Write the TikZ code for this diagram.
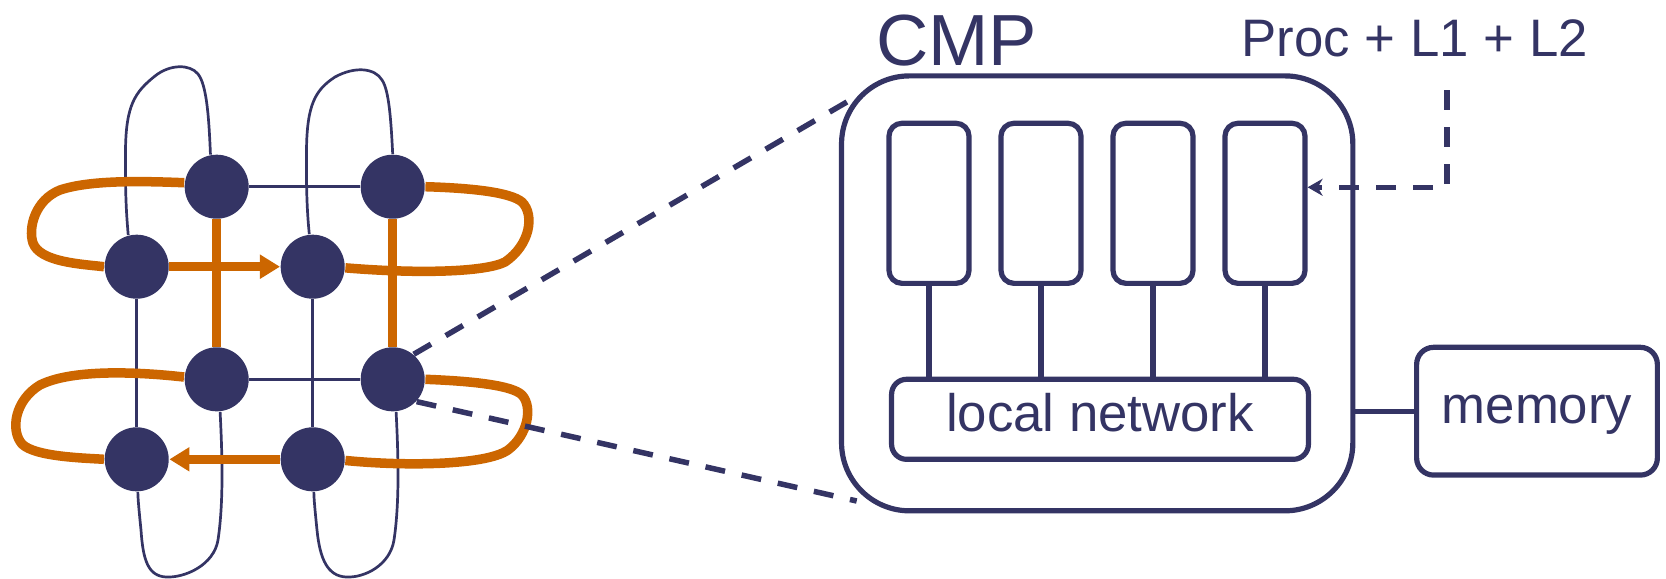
\documentclass[tikz,border=0pt]{standalone}
\usepackage{fontspec}
\newfontfamily\labelfont{Liberation Sans}
\usetikzlibrary{arrows.meta}
\pgfdeclarelayer{background}
\pgfsetlayers{background,main}
\definecolor{navy}{RGB}{52,52,100}
\definecolor{ringorange}{RGB}{204,102,0}

\begin{document}
\begin{tikzpicture}[x=0.01cm,y=-0.01cm,
  router/.style={circle,fill=navy,minimum size=0.64cm,inner sep=0pt},
  gridlink/.style={draw=navy,line width=0.034cm},
  wraplink/.style={draw=navy,line width=0.027cm},
  ring/.style={draw=ringorange,line width=0.095cm},
  ringarrow/.style={ring,-{Triangle[length=0.2cm,width=0.23cm]}},
  zoomline/.style={draw=navy,line width=0.055cm,dash pattern=on 0.2cm off 0.17cm},
  boxline/.style={draw=navy,line width=0.052cm},
  cmpbox/.style={boxline,rectangle,rounded corners=0.68cm,minimum width=5.11cm,minimum height=4.347cm,inner sep=0pt},
  procbox/.style={boxline,rectangle,rounded corners=0.13cm,minimum width=0.8cm,minimum height=1.6cm,inner sep=0pt},
  textbox/.style={boxline,rectangle,inner sep=0pt,text=navy,
    font=\labelfont\fontsize{15pt}{18pt}\selectfont,text height=0.716em,text depth=0pt},
  label/.style={inner sep=0pt,text=navy,anchor=base west}
]
\useasboundingbox (0,0) rectangle (1666,578);

% 2D torus: routers
\node[router] (A) at (216.7,186.7) {};
\node[router] (B) at (392.7,186.7) {};
\node[router] (C) at (136.7,266.7) {};
\node[router] (D) at (312.7,266.7) {};
\node[router] (E) at (216.7,379.3) {};
\node[router] (F) at (392.7,379.3) {};
\node[router] (G) at (136.7,459.3) {};
\node[router] (H) at (312.7,459.3) {};

\begin{pgfonlayer}{background}
  % vertical wrap-around links
  \draw[wraplink] (A.101) .. controls (209,120) and (207,85) .. (198,74)
    .. controls (190,64) and (170,64) .. (155,76)
    .. controls (135,92) and (126,105) .. (125.5,150)
    .. controls (125,200) and (127,220) .. (C.105);
  \draw[wraplink] (B.90) .. controls (391,120) and (389,90) .. (382,80)
    .. controls (375,68) and (355,66) .. (335,77)
    .. controls (315,90) and (307,105) .. (306.5,150)
    .. controls (306,200) and (308,220) .. (D.96);
  \draw[wraplink] (E.-84) .. controls (222,450) and (224,500) .. (218,540)
    .. controls (214,565) and (185,578) .. (166,577)
    .. controls (148,576) and (143,560) .. (141,530)
    .. controls (139,510) and (138,500) .. (G.-88);
  \draw[wraplink] (F.-84) .. controls (398,450) and (400,500) .. (394,540)
    .. controls (390,565) and (365,578) .. (346,577)
    .. controls (328,576) and (320,560) .. (317,530)
    .. controls (315,510) and (314,500) .. (H.-88);

  % plain mesh links
  \draw[gridlink] (A) -- (B);
  \draw[gridlink] (E) -- (F);
  \draw[gridlink] (C) -- (G);
  \draw[gridlink] (D) -- (H);

  % ring (highlighted route)
  \draw[ring] (A) -- (E);
  \draw[ring] (B) -- (F);
  \draw[ringarrow] (C) -- (D);
  \draw[ringarrow] (H) -- (G);
  \draw[ring] (A.173) .. controls (140,181) and (90,180) .. (60,190)
    .. controls (35,200) and (28,228) .. (33,243)
    .. controls (40,262) and (80,264) .. (C.180);
  \draw[ring] (B.0) .. controls (470,188) and (510,192) .. (522,202)
    .. controls (535,215) and (530,245) .. (505,262)
    .. controls (485,272) and (420,274) .. (D.358);
  \draw[ring] (E.176) .. controls (130,371) and (70,370) .. (40,385)
    .. controls (15,400) and (10,430) .. (22,444)
    .. controls (35,457) and (85,458) .. (G.180);
  \draw[ring] (F.0) .. controls (470,381) and (512,385) .. (522,395)
    .. controls (533,407) and (528,435) .. (508,450)
    .. controls (485,466) and (400,466) .. (H.358);

  % zoom lines towards the chip
  \coordinate (zoomtop) at (852,99);
  \coordinate (zoombot) at (856.7,501);
  \draw[zoomline] (F.50) -- (zoomtop);
  \draw[zoomline] (F.-43) -- (zoombot);
\end{pgfonlayer}

% chip multiprocessor
\node[cmpbox] (cmp) at (1097.2,293.35) {};
\node[label,font=\labelfont\fontsize{20.6pt}{24pt}\selectfont] (cmplabel) at (875.4,65) {CMP};

\node[procbox] (P1) at (929,203.3) {};
\node[procbox] (P2) at (1041,203.3) {};
\node[procbox] (P3) at (1153,203.3) {};
\node[procbox] (P4) at (1265,203.3) {};

\node[textbox,rounded corners=0.15cm,minimum width=4.166cm,minimum height=0.8cm] (net) at (1100,419.3) {local network};
\node[textbox,rounded corners=0.17cm,minimum width=2.406cm,minimum height=1.277cm] (mem) at (1537,411.2) {memory};

\foreach \p in {P1,P2,P3,P4}
  \draw[boxline] (\p.south) -- (\p.south |- net.north);
\draw[boxline] (cmp.east |- mem.west) -- (mem.west);

% tile label and pointer
\node[label,font=\labelfont\fontsize{15pt}{18pt}\selectfont] (proclabel) at (1241,56.5) {Proc + L1 + L2};
\coordinate (ptr) at (1447,90);
\draw[zoomline,-{Stealth[length=0.15cm,width=0.17cm]}] (ptr) |- ([yshift=0.16cm]P4.east);
\end{tikzpicture}
\end{document}
